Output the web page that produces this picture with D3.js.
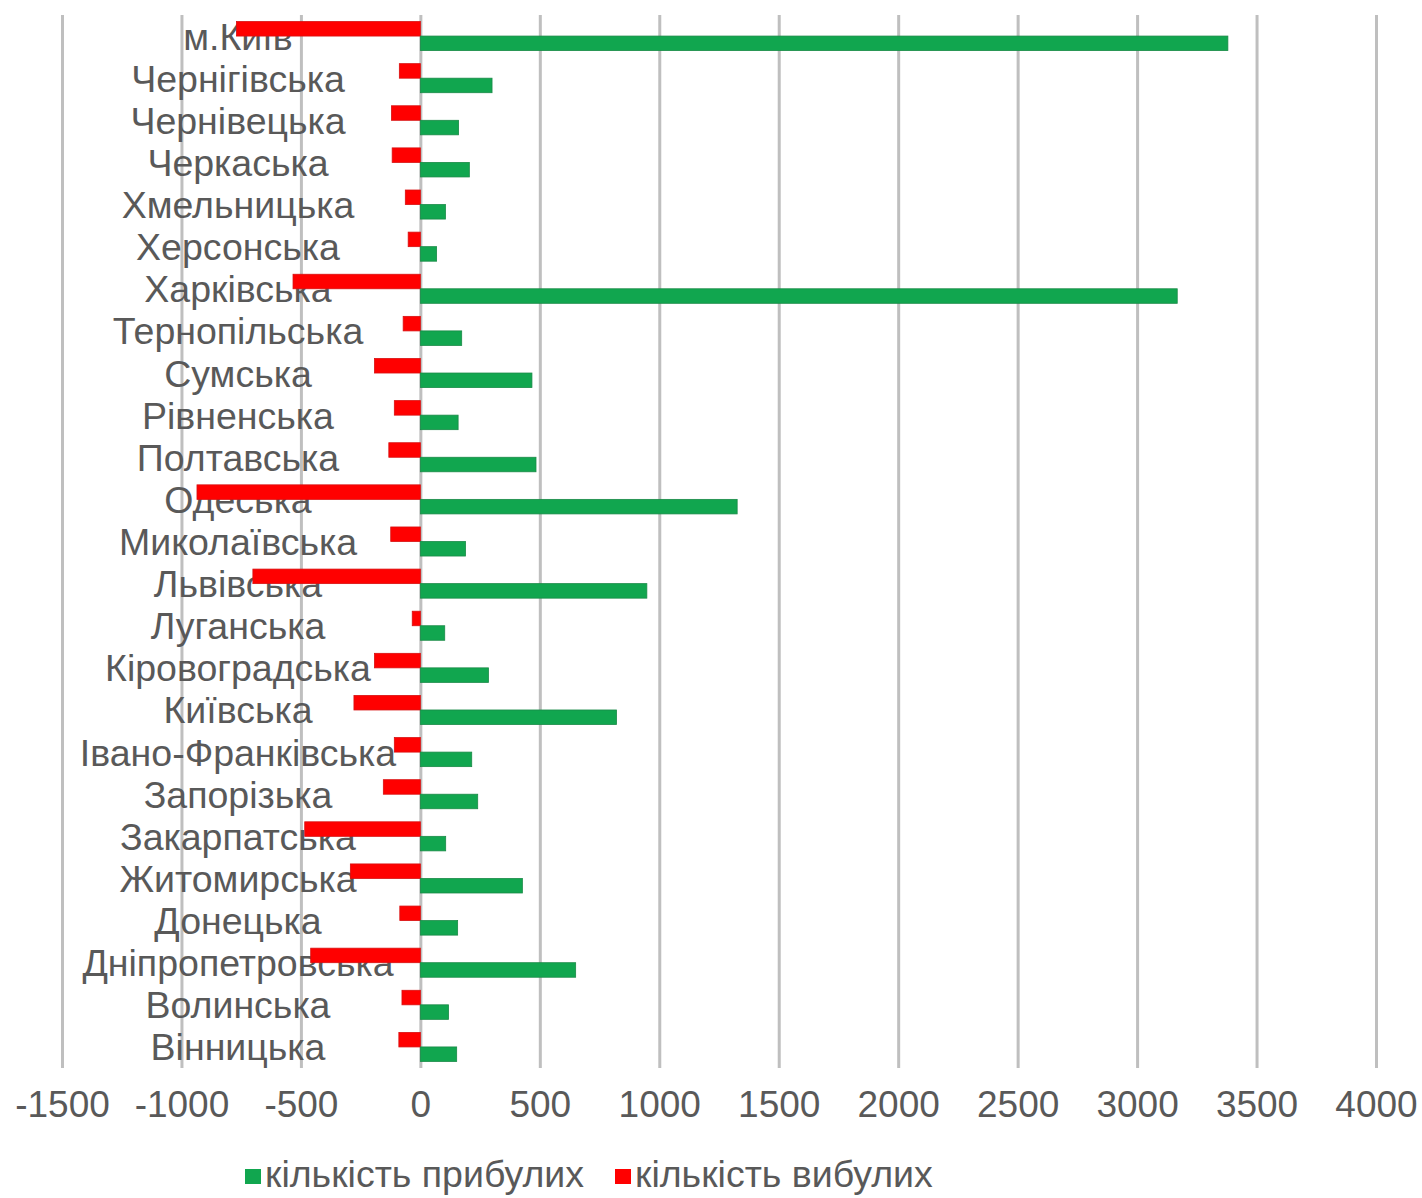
<!DOCTYPE html>
<html>
<head>
<meta charset="utf-8">
<script src="https://cdn.jsdelivr.net/npm/d3@7"></script>
<style>
  body { margin: 0; background: #fff; }
  text { font-family: "Liberation Sans", Arial, sans-serif; fill: #595959; }
</style>
</head>
<body>
<div id="chart"></div>
<script>
const regions = ['м.Київ', 'Чернігівська', 'Чернівецька', 'Черкаська', 'Хмельницька', 'Херсонська',
  'Харківська', 'Тернопільська', 'Сумська', 'Рівненська', 'Полтавська', 'Одеська', 'Миколаївська',
  'Львівська', 'Луганська', 'Кіровоградська', 'Київська', 'Івано-Франківська', 'Запорізька',
  'Закарпатська', 'Житомирська', 'Донецька', 'Дніпропетровська', 'Волинська', 'Вінницька'];
// кількість прибулих
const arrived = [3380, 300, 160, 205, 105, 68, 3168, 173, 467, 158, 484, 1326, 189,
  948, 102, 285, 821, 215, 240, 106, 427, 156, 650, 118, 152];
// кількість вибулих (shown as negative)
const departed = [-770, -88, -121, -118, -63, -51, -533, -72, -192, -109, -132, -935, -124,
  -701, -34, -192, -278, -109, -155, -484, -293, -86, -459, -77, -90];
const xTicks = [-1500, -1000, -500, 0, 500, 1000, 1500, 2000, 2500, 3000, 3500, 4000];
const seriesNames = ['кількість прибулих', 'кількість вибулих'];

const W = 1422, H = 1198;
const svg = d3.select('#chart').append('svg').attr('width', W).attr('height', H);

const [plotTop, plotBottom] = [15, 1068];
const x = d3.scaleLinear().domain([-1500, 4000]).range([62, 1376]);
const y = d3.scaleBand().domain(regions).range([plotTop, plotBottom]).paddingInner(0.31).paddingOuter(0.155);
const ySub = d3.scaleBand().domain(['departed', 'arrived']).range([0, y.bandwidth()]);

// gridlines
const grid = svg.append('g').attr('transform', `translate(0, ${plotBottom})`)
  .call(d3.axisBottom(x).tickValues(xTicks).tickSize(-(plotBottom - plotTop)).tickFormat(''));
grid.select('.domain').remove();
grid.selectAll('line').attr('stroke', '#bfbfbf').attr('stroke-width', 3);

// tick labels
const ax = svg.append('g').attr('transform', `translate(0, ${plotBottom + 20})`)
  .call(d3.axisBottom(x).tickValues(xTicks).tickSize(0).tickFormat(d => String(d)));
ax.select('.domain').remove();
ax.selectAll('text').attr('font-size', 37).attr('fill', '#595959').attr('dy', '0.71em')
  .attr('font-family', '"Liberation Sans", Arial, sans-serif');

const rows = regions.map((r, i) => ({ r, a: arrived[i], d: departed[i] }));

// category labels (drawn first; bars sit on top of them)
svg.append('g').selectAll('text').data(rows).enter().append('text')
  .attr('x', 238)
  .attr('y', d => y(d.r) + y.bandwidth() / 2)
  .attr('dy', '0.36em')
  .attr('text-anchor', 'middle')
  .attr('font-size', 37.5)
  .text(d => d.r);

const bars = svg.append('g');
bars.selectAll('rect.dep').data(rows).enter().append('rect')
  .attr('x', d => x(d.d))
  .attr('y', d => y(d.r) + ySub('departed'))
  .attr('width', d => x(0) - x(d.d))
  .attr('height', ySub.bandwidth())
  .attr('fill', '#ff0000')
  .attr('stroke', '#d81010').attr('stroke-width', 0.8);
bars.selectAll('rect.arr').data(rows).enter().append('rect')
  .attr('x', x(0))
  .attr('y', d => y(d.r) + ySub('arrived'))
  .attr('width', d => x(d.a) - x(0))
  .attr('height', ySub.bandwidth())
  .attr('fill', '#11a64f')
  .attr('stroke', '#1a8a47').attr('stroke-width', 0.8);

// legend
const legend = svg.append('g');
const legX = [245, 615];
const legColors = ['#11a64f', '#ff0000'];
seriesNames.forEach((name, i) => {
  legend.append('rect').attr('x', legX[i]).attr('y', 1169).attr('width', 16).attr('height', 15)
    .attr('fill', legColors[i]);
  legend.append('text').attr('x', legX[i] + 20).attr('y', 1187).attr('font-size', 37.5).text(name);
});
</script>
</body>
</html>
